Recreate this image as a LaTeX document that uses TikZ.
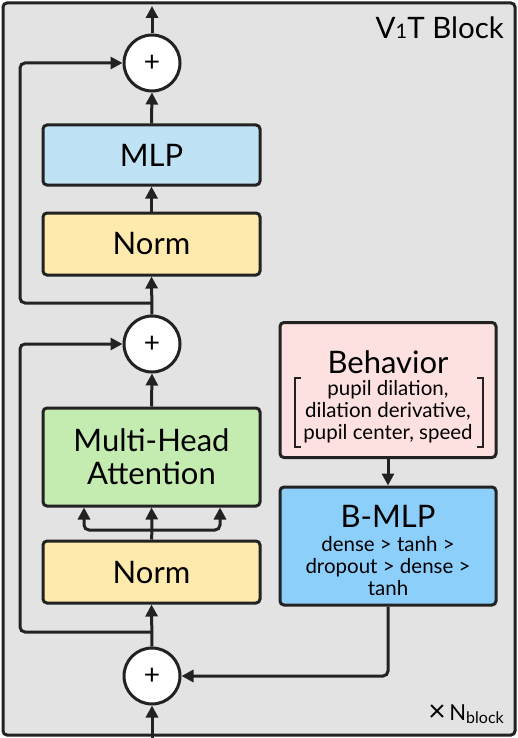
\documentclass[tikz,border=0pt]{standalone}
\usepackage{fontspec}
\setmainfont{Lato}
\usetikzlibrary{arrows.meta}
\definecolor{framebg}{HTML}{E3E3E3}
\definecolor{ink}{HTML}{222222}
\definecolor{mlpc}{HTML}{BFE3F5}
\definecolor{normc}{HTML}{FFEAAE}
\definecolor{mhac}{HTML}{C5ECB0}
\definecolor{behc}{HTML}{FDE0E0}
\definecolor{bmlpc}{HTML}{8CCFFB}
\tikzset{
  blk/.style={draw=ink, line width=3pt, rounded corners=4pt, minimum width=217pt, inner sep=0pt, font=\fontsize{31}{34}\selectfont},
  addc/.style={draw=ink, line width=3pt, circle, fill=white, minimum size=56pt, inner sep=0pt, font=\fontsize{28}{28}\selectfont},
  conn/.style={draw=ink, line width=3pt, rounded corners=5pt, -{Triangle[length=12pt,width=12pt]}},
  plainconn/.style={draw=ink, line width=3pt, rounded corners=5pt},
  small/.style={font=\fontsize{20.5}{22}\selectfont, align=center, inner sep=0pt, text=black},
  big/.style={font=\fontsize{31}{32}\selectfont, inner sep=0pt, text=black, anchor=base}
}
\begin{document}
\begin{tikzpicture}[x=1pt,y=-1pt]
\useasboundingbox (0,0) rectangle (518,738);
\draw[draw=ink, line width=3pt, fill=framebg, rounded corners=4pt] (3,3) rectangle (515,735);
\node[font=\fontsize{29.5}{30}\selectfont, anchor=base east, inner sep=0pt] (title) at (504,39) {V{\fontsize{20}{20}\selectfont 1}T Block};
\node[font=\fontsize{22}{24}\selectfont, anchor=base east, inner sep=0pt] (nblock) at (504,720) {{\fontsize{30}{30}\selectfont\raisebox{-1pt}{×}}\,N{\fontsize{16}{16}\selectfont\raisebox{-3.5pt}{block}}};

% left column
\node[blk, fill=mlpc, minimum height=60pt] (mlp) at (151.5,155) {MLP};
\node[blk, fill=normc, minimum height=62pt] (norm1) at (151.5,244) {Norm};
\node[blk, fill=mhac, minimum height=98pt, align=center, font=\fontsize{31}{33}\selectfont] (mha) at (151.5,457) {Multi-Head\\Attention};
\node[blk, fill=normc, minimum height=62pt] (norm2) at (151.5,572) {Norm};
\node[addc] (add1) at (152,63) {+};
\node[addc] (add2) at (152,344) {+};
\node[addc] (add3) at (152,676) {+};

% right column
\node[blk, fill=behc, minimum width=216pt, minimum height=135pt] (beh) at (388,390) {};
\node[big] (behtitle) at (388,373) {Behavior};
\node[small] (behtext) at (388,412) {pupil dilation,\\dilation derivative,\\pupil center, speed};
\draw[ink, line width=1.6pt] (301,378) -- (295,378) -- (295,447) -- (301,447);
\draw[ink, line width=1.6pt] (477,378) -- (483,378) -- (483,447) -- (477,447);
\node[blk, fill=bmlpc, minimum width=216pt, minimum height=118pt] (bmlp) at (388,546) {};
\node[big] (bmlptitle) at (388,527) {B-MLP};
\node[small] (bmlptext) at (388,566) {dense > tanh >\\dropout > dense >\\tanh};

% coordinates
\coordinate (topout) at (152,6);
\coordinate (botin) at (152,740);
\coordinate (sk1) at (152,303);
\coordinate (sk2) at (152,632);
\coordinate (brL) at (84,530);
\coordinate (brR) at (220,530);
\coordinate (brM) at (152,530);

% main flow
\draw[conn] (botin) -- (add3.south);
\draw[conn] (add3.north) -- (norm2.south);
\draw[plainconn] (norm2.north) -- (brM);
\draw[conn] (brM) -- (mha.south);
\draw[conn] (brM) -- (brL) -- (brL |- mha.south);
\draw[conn] (brM) -- (brR) -- (brR |- mha.south);
\draw[conn] (mha.north) -- (add2.south);
\draw[conn] (add2.north) -- (norm1.south);
\draw[conn] (norm1.north) -- (mlp.south);
\draw[conn] (mlp.north) -- (add1.south);
\draw[conn] (add1.north) -- (topout);

% skips
\draw[conn] (sk2) -- (20,632) -- (20,344) -- (add2.west);
\draw[conn] (sk1) -- (20,303) -- (20,63) -- (add1.west);

% behavior path
\draw[conn] (beh.south) -- (bmlp.north);
\draw[conn] (bmlp.south) -- (bmlp.south |- add3) -- (add3.east);
\end{tikzpicture}
\end{document}
